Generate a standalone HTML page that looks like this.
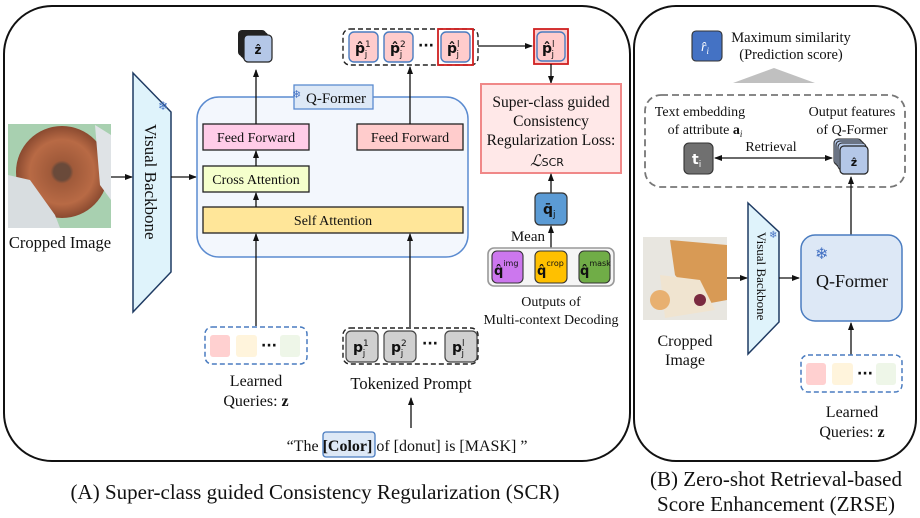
<!DOCTYPE html>
<html><head><meta charset="utf-8"><style>
html,body{margin:0;padding:0;background:#fff}
svg{display:block}
text{font-family:"Liberation Serif",serif;fill:#111}
.s{font-family:"DejaVu Sans","Liberation Sans",sans-serif;font-weight:bold}
</style></head><body>
<svg width="920" height="518" viewBox="0 0 920 518" xmlns="http://www.w3.org/2000/svg">
<defs>
<marker id="a" markerWidth="8" markerHeight="8" refX="7" refY="4" orient="auto" markerUnits="userSpaceOnUse"><path d="M0,1 L8,4 L0,7 z" fill="#111"/></marker>
<marker id="b" markerWidth="8" markerHeight="8" refX="1" refY="4" orient="auto" markerUnits="userSpaceOnUse"><path d="M8,1 L0,4 L8,7 z" fill="#111"/></marker>
<radialGradient id="dn" cx="50%" cy="50%" r="50%"><stop offset="0.18" stop-color="#6a4a3a"/><stop offset="0.25" stop-color="#a05a3a"/><stop offset="0.7" stop-color="#b86a45"/><stop offset="1" stop-color="#8a4a30"/></radialGradient>
</defs>
<rect x="4" y="6" width="626" height="455" rx="48" fill="none" stroke="#111" stroke-width="2"/>
<rect x="634" y="6" width="282" height="455" rx="42" fill="none" stroke="#111" stroke-width="2"/>

<rect x="8" y="124" width="103" height="104" fill="#a8d0b0"/>
<circle cx="62" cy="172" r="46" fill="url(#dn)"/>
<path d="M8,175 L30,180 L55,215 L60,228 L8,228 z" fill="#d8dde0"/>
<path d="M95,125 L111,135 L111,200 L100,185 z" fill="#dfe3e6"/>
<text x="60" y="248" font-size="16.5" text-anchor="middle">Cropped Image</text>
<line x1="111" y1="177" x2="132" y2="177" stroke="#111" stroke-width="1.3" marker-end="url(#a)"/>
<polygon points="133,73 171,112 171,272 133,312" fill="#dff3fb" stroke="#1f3b63" stroke-width="1.5"/>
<text transform="translate(145,124) rotate(90)" font-size="17">Visual Backbone</text>
<text x="158" y="110" font-size="12" style="fill:#4472c4">❄</text>
<line x1="171" y1="177" x2="196" y2="177" stroke="#111" stroke-width="1.3" marker-end="url(#a)"/>

<rect x="197" y="97" width="271" height="160" rx="22" fill="#f3f7fd" stroke="#5b8bd0" stroke-width="1.5"/>
<rect x="294" y="85" width="79" height="24" fill="#dde8f6" stroke="#5b8bd0" stroke-width="1.3"/>
<text x="292" y="98" font-size="11" style="fill:#4472c4">❄</text>
<text x="336" y="103" font-size="15" text-anchor="middle">Q-Former</text>
<rect x="203" y="124" width="106" height="26" fill="#ffcce8" stroke="#222" stroke-width="1.3"/>
<text x="256" y="142" font-size="14" text-anchor="middle">Feed Forward</text>
<rect x="357" y="124" width="106" height="26" fill="#ffcccc" stroke="#222" stroke-width="1.3"/>
<text x="410" y="142" font-size="14" text-anchor="middle">Feed Forward</text>
<rect x="203" y="166" width="106" height="26" fill="#f5ffcc" stroke="#222" stroke-width="1.3"/>
<text x="256" y="184" font-size="14" text-anchor="middle">Cross Attention</text>
<rect x="203" y="207" width="260" height="26" fill="#ffe699" stroke="#222" stroke-width="1.3"/>
<text x="333" y="225" font-size="14" text-anchor="middle">Self Attention</text>
<line x1="256" y1="166" x2="256" y2="151" stroke="#111" stroke-width="1.3" marker-end="url(#a)"/>
<line x1="256" y1="207" x2="256" y2="193" stroke="#111" stroke-width="1.3" marker-end="url(#a)"/>
<line x1="256" y1="124" x2="256" y2="70" stroke="#111" stroke-width="1.3" marker-end="url(#a)"/>
<line x1="410" y1="124" x2="410" y2="67" stroke="#111" stroke-width="1.3" marker-end="url(#a)"/>
<line x1="256" y1="326" x2="256" y2="234" stroke="#111" stroke-width="1.3" marker-end="url(#a)"/>
<line x1="410" y1="327" x2="410" y2="234" stroke="#111" stroke-width="1.3" marker-end="url(#a)"/>

<rect x="238" y="30" width="28" height="26" rx="4" fill="#222"/>
<rect x="240" y="32" width="28" height="26" rx="4" fill="#222"/>
<rect x="242" y="34" width="28" height="26" rx="4" fill="#222"/>
<rect x="244" y="35" width="28" height="27" rx="4" fill="#b4c7e7" stroke="#222" stroke-width="1.2"/>
<text x="258" y="54" font-size="12" class="s" text-anchor="middle">ẑ</text>

<rect x="343" y="29" width="135" height="36" rx="7" fill="none" stroke="#222" stroke-width="1.4" stroke-dasharray="5,3"/>
<rect x="349" y="32" width="29" height="30" rx="5" fill="#ffcccc" stroke="#4a7cc0" stroke-width="1.4"/>
<rect x="384" y="32" width="29" height="30" rx="5" fill="#ffcccc" stroke="#4a7cc0" stroke-width="1.4"/>
<rect x="441" y="32" width="29" height="30" rx="5" fill="#ffcccc" stroke="#4a7cc0" stroke-width="1.4"/>
<rect x="438" y="29" width="35" height="36" fill="none" stroke="#d02020" stroke-width="1.8"/>
<text x="355" y="53" font-size="14" class="s">p̂<tspan font-size="9" dy="-6" font-weight="normal">1</tspan><tspan font-size="9" dx="-6" dy="10" font-weight="normal">j</tspan></text>
<text x="390" y="53" font-size="14" class="s">p̂<tspan font-size="9" dy="-6" font-weight="normal">2</tspan><tspan font-size="9" dx="-6" dy="10" font-weight="normal">j</tspan></text>
<text x="447" y="53" font-size="14" class="s">p̂<tspan font-size="9" dy="-6" font-weight="normal">l</tspan><tspan font-size="9" dx="-3" dy="10" font-weight="normal">j</tspan></text>
<text x="426" y="50" font-size="14" class="s" text-anchor="middle">···</text>
<line x1="478" y1="46" x2="532" y2="46" stroke="#111" stroke-width="1.3" marker-end="url(#a)"/>
<rect x="534" y="29" width="34" height="35" fill="#ffcccc" stroke="#d02020" stroke-width="1.8"/>
<rect x="537" y="32" width="28" height="29" rx="5" fill="#ffcccc" stroke="#4a7cc0" stroke-width="1.4"/>
<text x="542" y="53" font-size="14" class="s">p̂<tspan font-size="9" dy="-6" font-weight="normal">l</tspan><tspan font-size="9" dx="-3" dy="10" font-weight="normal">j</tspan></text>
<line x1="551" y1="64" x2="551" y2="83" stroke="#111" stroke-width="1.3" marker-end="url(#a)"/>

<rect x="481" y="84" width="140" height="89" fill="#ffe8e8" stroke="#f08888" stroke-width="2"/>
<text x="551" y="107" font-size="15.5" text-anchor="middle">Super-class guided</text>
<text x="551" y="126" font-size="15.5" text-anchor="middle">Consistency</text>
<text x="551" y="145" font-size="15.5" text-anchor="middle">Regularization Loss:</text>
<text x="547" y="166" font-size="16" text-anchor="middle" font-style="italic">ℒ<tspan font-size="11" font-style="normal" font-family="DejaVu Sans">SCR</tspan></text>
<line x1="551" y1="193" x2="551" y2="174" stroke="#111" stroke-width="1.3" marker-end="url(#a)"/>
<rect x="535" y="193" width="32" height="32" rx="5" fill="#5b9bd5" stroke="#333" stroke-width="1.2"/>
<text x="543" y="214" font-size="14" class="s">q̄<tspan font-size="9" font-weight="normal" dy="3">j</tspan></text>
<line x1="551" y1="248" x2="551" y2="226" stroke="#111" stroke-width="1.3" marker-end="url(#a)"/>
<text x="545" y="241" font-size="15" text-anchor="end">Mean</text>
<rect x="488" y="248" width="126" height="38" rx="6" fill="#f5f5f5" stroke="#999" stroke-width="1.6"/>
<rect x="492" y="251" width="31" height="32" rx="5" fill="#cc77ee" stroke="#333" stroke-width="1.1"/>
<rect x="535" y="251" width="32" height="32" rx="5" fill="#ffc000" stroke="#333" stroke-width="1.1"/>
<rect x="579" y="251" width="31" height="32" rx="5" fill="#70ad47" stroke="#333" stroke-width="1.1"/>
<text x="494" y="275" font-size="13" class="s">q̂<tspan font-size="8" font-weight="normal" dy="-9">img</tspan></text>
<text x="537" y="275" font-size="13" class="s">q̂<tspan font-size="8" font-weight="normal" dy="-9">crop</tspan></text>
<text x="580" y="275" font-size="13" class="s">q̂<tspan font-size="8" font-weight="normal" dy="-9">mask</tspan></text>
<text x="551" y="306" font-size="14" text-anchor="middle">Outputs of</text>
<text x="551" y="324" font-size="14" text-anchor="middle">Multi-context Decoding</text>

<rect x="205" y="327" width="102" height="37" rx="7" fill="none" stroke="#4a7cc0" stroke-width="1.5" stroke-dasharray="5,3"/>
<rect x="210" y="335" width="20" height="22" rx="3" fill="#ffd0d0"/>
<rect x="236" y="335" width="21" height="22" rx="3" fill="#fff4dc"/>
<rect x="280" y="335" width="20" height="22" rx="3" fill="#eef6e8"/>
<text x="269" y="350" font-size="14" class="s" text-anchor="middle">···</text>
<text x="256" y="386" font-size="16" text-anchor="middle">Learned</text>
<text x="256" y="406" font-size="16" text-anchor="middle">Queries: <tspan font-weight="bold">z</tspan></text>

<rect x="343" y="328" width="135" height="36" rx="7" fill="none" stroke="#222" stroke-width="1.4" stroke-dasharray="5,3"/>
<rect x="346" y="331" width="32" height="31" rx="5" fill="#d0d0d0" stroke="#444" stroke-width="1.2"/>
<rect x="384" y="331" width="32" height="31" rx="5" fill="#d0d0d0" stroke="#444" stroke-width="1.2"/>
<rect x="445" y="331" width="32" height="31" rx="5" fill="#d0d0d0" stroke="#444" stroke-width="1.2"/>
<text x="353" y="352" font-size="14" class="s">p<tspan font-size="9" font-weight="normal" dy="-6">1</tspan><tspan font-size="9" dx="-6" dy="10" font-weight="normal">j</tspan></text>
<text x="391" y="352" font-size="14" class="s">p<tspan font-size="9" font-weight="normal" dy="-6">2</tspan><tspan font-size="9" dx="-6" dy="10" font-weight="normal">j</tspan></text>
<text x="452" y="352" font-size="14" class="s">p<tspan font-size="9" font-weight="normal" dy="-6">l</tspan><tspan font-size="9" dx="-3" dy="10" font-weight="normal">j</tspan></text>
<text x="430" y="348" font-size="14" class="s" text-anchor="middle">···</text>
<text x="411" y="389" font-size="16.5" text-anchor="middle">Tokenized Prompt</text>
<line x1="411" y1="428" x2="411" y2="398" stroke="#111" stroke-width="1.3" marker-end="url(#a)"/>
<rect x="323" y="432" width="52" height="25" rx="3" fill="#dde8f6" stroke="#4a7cc0" stroke-width="1.3"/>
<text x="407" y="451" font-size="16" text-anchor="middle">“The <tspan font-weight="bold">[Color]</tspan> of [donut] is [MASK] ”</text>

<text x="315" y="499" font-size="21" text-anchor="middle">(A) Super-class guided Consistency Regularization (SCR)</text>
<text x="776" y="486" font-size="21" text-anchor="middle">(B) Zero-shot Retrieval-based</text>
<text x="776" y="511" font-size="21" text-anchor="middle">Score Enhancement (ZRSE)</text>

<rect x="692" y="31" width="30" height="30" rx="4" fill="#4472c4" stroke="#333" stroke-width="1.1"/>
<text x="701" y="51" font-size="14" font-style="italic" style="fill:#fff">r̂<tspan font-size="9" dy="3" style="fill:#fff">i</tspan></text>
<text x="791" y="42" font-size="14.5" text-anchor="middle">Maximum similarity</text>
<text x="791" y="59" font-size="14.5" text-anchor="middle">(Prediction score)</text>
<polygon points="733,83 815,83 774,68" fill="#c0c0c0"/>
<rect x="645" y="95" width="260" height="92" rx="16" fill="none" stroke="#777" stroke-width="1.8" stroke-dasharray="7,4"/>
<text x="700" y="116" font-size="14" text-anchor="middle">Text embedding</text>
<text x="705" y="134" font-size="14" text-anchor="middle">of attribute <tspan font-weight="bold">a</tspan><tspan font-size="9" font-style="italic" dy="3">i</tspan></text>
<text x="852" y="116" font-size="14" text-anchor="middle">Output features</text>
<text x="852" y="134" font-size="14" text-anchor="middle">of Q-Former</text>
<rect x="684" y="143" width="29" height="31" rx="5" fill="#707070" stroke="#333" stroke-width="1.1"/>
<text x="692" y="164" font-size="14" class="s" style="fill:#fff">t<tspan font-size="9" font-weight="normal" dy="3" style="fill:#fff">i</tspan></text>
<line x1="715" y1="158" x2="832" y2="158" stroke="#111" stroke-width="1.3" marker-start="url(#b)" marker-end="url(#a)"/>
<text x="771" y="151" font-size="14" text-anchor="middle">Retrieval</text>
<rect x="834" y="139" width="28" height="26" rx="4" fill="#b4c7e7" stroke="#222"/>
<rect x="836" y="141" width="28" height="26" rx="4" fill="#b4c7e7" stroke="#222"/>
<rect x="838" y="143" width="28" height="27" rx="4" fill="#b4c7e7" stroke="#222"/>
<rect x="840" y="146" width="28" height="28" rx="4" fill="#b4c7e7" stroke="#222" stroke-width="1.2"/>
<text x="854" y="166" font-size="11" class="s" text-anchor="middle">ẑ</text>
<line x1="851" y1="235" x2="851" y2="177" stroke="#111" stroke-width="1.3" marker-end="url(#a)"/>

<rect x="643" y="237" width="84" height="83" fill="#e8e6e0"/>
<path d="M670,240 L727,245 L727,300 L700,305 L675,275 z" fill="#d89a55"/>
<path d="M660,275 L700,280 L715,310 L665,318 z" fill="#f0e4d0"/>
<circle cx="700" cy="300" r="6" fill="#7a2a40"/>
<circle cx="660" cy="300" r="10" fill="#e8b070"/>
<text x="685" y="346" font-size="16" text-anchor="middle">Cropped</text>
<text x="685" y="365" font-size="16" text-anchor="middle">Image</text>
<line x1="727" y1="278" x2="747" y2="278" stroke="#111" stroke-width="1.3" marker-end="url(#a)"/>
<polygon points="748,203 779,232 779,322 748,354" fill="#dff3fb" stroke="#1f3b63" stroke-width="1.5"/>
<text transform="translate(757,232) rotate(90)" font-size="13">Visual Backbone</text>
<text x="769" y="238" font-size="10" style="fill:#4472c4">❄</text>
<line x1="779" y1="278" x2="799" y2="278" stroke="#111" stroke-width="1.3" marker-end="url(#a)"/>
<rect x="801" y="235" width="101" height="86" rx="14" fill="#dde8f6" stroke="#4a7cc0" stroke-width="1.5"/>
<text x="815" y="259" font-size="16" style="fill:#4472c4">❄</text>
<text x="852" y="287" font-size="18" text-anchor="middle">Q-Former</text>
<line x1="851" y1="355" x2="851" y2="323" stroke="#111" stroke-width="1.3" marker-end="url(#a)"/>
<rect x="801" y="355" width="101" height="37" rx="7" fill="none" stroke="#4a7cc0" stroke-width="1.5" stroke-dasharray="5,3"/>
<rect x="806" y="363" width="20" height="22" rx="3" fill="#ffd0d0"/>
<rect x="832" y="363" width="21" height="22" rx="3" fill="#fff4dc"/>
<rect x="876" y="363" width="20" height="22" rx="3" fill="#eef6e8"/>
<text x="865" y="378" font-size="14" class="s" text-anchor="middle">···</text>
<text x="852" y="417" font-size="16" text-anchor="middle">Learned</text>
<text x="852" y="437" font-size="16" text-anchor="middle">Queries: <tspan font-weight="bold">z</tspan></text>
</svg>
</body></html>
